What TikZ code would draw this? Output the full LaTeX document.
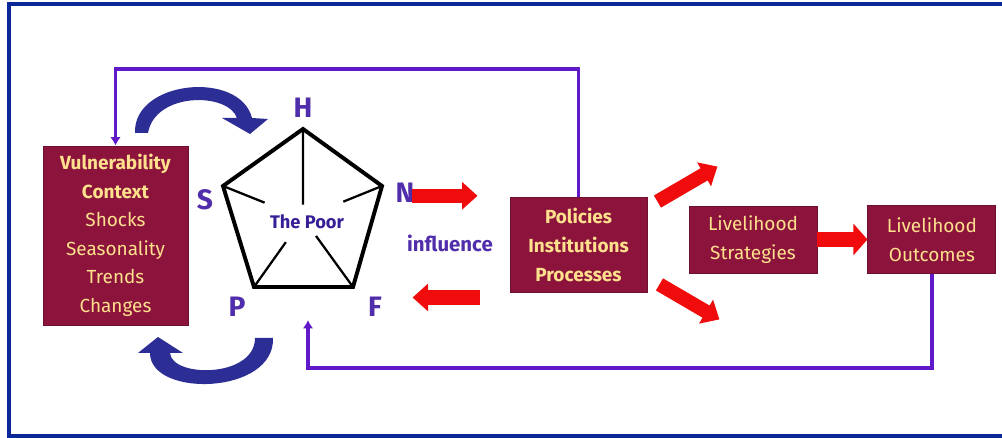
\documentclass[tikz,border=0pt]{standalone}
\usepackage{fontspec}
\setmainfont{Fira Sans}
\usetikzlibrary{arrows.meta,calc,positioning}

\definecolor{boxred}{RGB}{140,20,60}
\definecolor{boxtext}{RGB}{255,224,140}
\definecolor{arrred}{RGB}{240,12,12}
\definecolor{fbpurple}{RGB}{95,25,200}
\definecolor{labpurple}{RGB}{80,45,170}
\definecolor{poorblue}{RGB}{55,30,150}
\definecolor{curveblue}{RGB}{45,45,150}
\definecolor{framecol}{RGB}{10,40,150}

\tikzset{
boxstyle/.style={
  rectangle,
  fill=boxred,
  draw=boxred!80!black,
  line width=0.6pt,
  text=boxtext,
  align=center,
  inner sep=0pt,
  font=\fontsize{13.5}{20.3}\selectfont,
  }
}
\tikzset{
vlabel/.style={
  text=labpurple,
  inner sep=0pt,
  font=\fontsize{20}{20}\selectfont\bfseries,
  }
}
\tikzset{
redarr/.style={
  draw=arrred,
  line width=10pt,
  -{Triangle[length=11pt,width=19pt]}
  }
}
\tikzset{
fbline/.style={
  draw=fbpurple,
  line width=2.6pt,
  -{Latex[length=6pt,width=7.5pt]}
  }
}

\begin{document}
\begin{tikzpicture}[x=0.025cm,y=-0.025cm]
    \useasboundingbox (0,0) rectangle (1002,438);
    \draw[draw=framecol, line width=2.9pt] (1002,4) -- (9,4) -- (9,436) -- (1002,436);

    % boxes
    \node[boxstyle, minimum width=3.625cm, minimum height=4.475cm] (vul) at (115.5,235.5)
        {\textbf{Vulnerability}\\\textbf{Context}\\Shocks\\Seasonality\\Trends\\Changes};
    \node[boxstyle, minimum width=3.425cm, minimum height=2.375cm, font=\fontsize{13.5}{20.6}\selectfont\bfseries] (pol) at (578.5,244.5)
        {Policies\\Institutions\\Processes};
    \node[boxstyle, minimum width=3.2cm, minimum height=1.675cm] (str) at (753,239.5)
        {Livelihood\\Strategies};
    \node[boxstyle, minimum width=3.2cm, minimum height=1.7cm, right=1.25cm of str] (out)
        {Livelihood\\Outcomes};

    % pentagon
    \coordinate (h) at (303,129);
    \coordinate (n) at (382,186);
    \coordinate (f) at (353,287);
    \coordinate (p) at (254,287);
    \coordinate (s) at (223,186);
    \coordinate (ctr) at (303,218);
    \draw[line width=2.8pt, line join=miter] (h) -- (n) -- (f) -- (p) -- (s) -- cycle;
    \foreach \v/\f in {h/0.85, n/0.49, f/0.74, p/0.65, s/0.52}
        \draw[line width=1.6pt] (\v) -- ($(\v)!\f!(ctr)$);
    \node[text=poorblue, font=\fontsize{13}{13}\selectfont\bfseries] (poor) at (307,222) {The Poor};

    % vertex labels
    \node[vlabel] (hlab) at (303,108) {H};
    \node[vlabel] (slab) at (205,200) {S};
    \node[vlabel] (nlab) at (405,193) {N};
    \node[vlabel] (plab) at (237,307) {P};
    \node[vlabel] (flab) at (375,307) {F};
    \node[text=labpurple, inner sep=0pt, font=\fontsize{14.5}{14.5}\selectfont\bfseries] (infl) at (450,243) {influence};

    % curved arrows
    \fill[curveblue] (135,133) .. controls (133,80) and (240,70) .. (252,118) -- (268,119) -- (250,134)
        -- (222,118) -- (237,118) .. controls (228,92) and (155,92) .. (148,133) -- cycle;
    \fill[curveblue] (273,338) .. controls (275,395) and (150,398) .. (150,353) -- (138,353) -- (158,337)
        -- (183,353) -- (170,353) .. controls (172,378) and (255,378) .. (255,338) -- cycle;

    % red arrows
    \draw[redarr, shorten <=-2pt, shorten >=0.8cm] ([yshift=-2pt]nlab.east) -- ([yshift=-2pt]pol.west |- nlab.east);
    \draw[redarr] ($(pol.west)+(-30,53)$) -- ++(-67,0);
    \draw[redarr] ($(pol.north east)+(10,5)$) -- ++(60,-35);
    \draw[redarr] ($(pol.south east)+(12,-8)$) -- ++(60,35);
    \draw[redarr, line width=11pt, -{Triangle[length=10pt,width=22pt]}] (str.east) -- (out.west);

    % feedback lines
    \coordinate (fbtop) at (0,69);
    \coordinate (pin) at (308,320);
    \coordinate (fbbot) at (308,368);
    \draw[fbline] (pol.north) |- (fbtop -| vul.north) -- (vul.north);
    \draw[fbline] (out.south) |- (fbbot) -- (pin);
\end{tikzpicture}
\end{document}
